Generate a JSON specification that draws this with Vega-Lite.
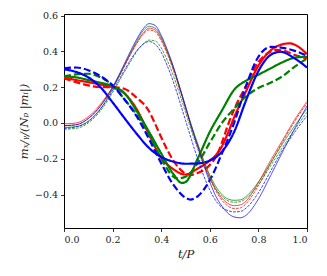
{
  "$schema": "https://vega.github.io/schema/vega-lite/v6.json",
  "width": 243,
  "height": 214,
  "autosize": {"type": "none"},
  "padding": {"left": 64, "top": 14, "right": 20, "bottom": 48},
  "config": {
    "view": {"stroke": "#000", "strokeWidth": 1},
    "axis": {"domain": false, "grid": false, "tickColor": "#000", "tickSize": 3.5, "tickWidth": 0.8, "labelFont": "DejaVu Serif", "labelFontSize": 9.5, "labelColor": "#222", "labelPadding": 3, "titleFont": "DejaVu Serif", "titleFontSize": 11.5, "titleFontWeight": "normal", "titleFontStyle": "italic", "titleColor": "#222"}
  },
  "datasets": {
    "thick": [
      {"case":"1","model":"A","t":0,"value":0.255},{"case":"1","model":"A","t":0.05,"value":0.24},{"case":"1","model":"A","t":0.1,"value":0.228},{"case":"1","model":"A","t":0.15,"value":0.215},{"case":"1","model":"A","t":0.2,"value":0.2},{"case":"1","model":"A","t":0.25,"value":0.163},{"case":"1","model":"A","t":0.3,"value":0.075},{"case":"1","model":"A","t":0.35,"value":-0.065},{"case":"1","model":"A","t":0.4,"value":-0.195},{"case":"1","model":"A","t":0.45,"value":-0.258},{"case":"1","model":"A","t":0.49,"value":-0.287},{"case":"1","model":"A","t":0.5,"value":-0.288},{"case":"1","model":"A","t":0.55,"value":-0.255},{"case":"1","model":"A","t":0.6,"value":-0.21},{"case":"1","model":"A","t":0.625,"value":-0.18},{"case":"1","model":"A","t":0.65,"value":-0.13},{"case":"1","model":"A","t":0.675,"value":-0.055},{"case":"1","model":"A","t":0.7,"value":0.03},{"case":"1","model":"A","t":0.75,"value":0.18},{"case":"1","model":"A","t":0.8,"value":0.32},{"case":"1","model":"A","t":0.85,"value":0.405},{"case":"1","model":"A","t":0.9,"value":0.44},{"case":"1","model":"A","t":0.93,"value":0.445},{"case":"1","model":"A","t":0.95,"value":0.437},{"case":"1","model":"A","t":1,"value":0.385},
      {"case":"1","model":"B","t":0,"value":0.25},{"case":"1","model":"B","t":0.05,"value":0.228},{"case":"1","model":"B","t":0.1,"value":0.21},{"case":"1","model":"B","t":0.15,"value":0.2},{"case":"1","model":"B","t":0.2,"value":0.2},{"case":"1","model":"B","t":0.25,"value":0.19},{"case":"1","model":"B","t":0.3,"value":0.14},{"case":"1","model":"B","t":0.325,"value":0.11},{"case":"1","model":"B","t":0.35,"value":0.065},{"case":"1","model":"B","t":0.375,"value":-0.005},{"case":"1","model":"B","t":0.4,"value":-0.08},{"case":"1","model":"B","t":0.45,"value":-0.21},{"case":"1","model":"B","t":0.5,"value":-0.283},{"case":"1","model":"B","t":0.52,"value":-0.29},{"case":"1","model":"B","t":0.55,"value":-0.28},{"case":"1","model":"B","t":0.6,"value":-0.235},{"case":"1","model":"B","t":0.625,"value":-0.19},{"case":"1","model":"B","t":0.65,"value":-0.11},{"case":"1","model":"B","t":0.675,"value":-0.01},{"case":"1","model":"B","t":0.7,"value":0.075},{"case":"1","model":"B","t":0.75,"value":0.21},{"case":"1","model":"B","t":0.8,"value":0.34},{"case":"1","model":"B","t":0.85,"value":0.398},{"case":"1","model":"B","t":0.875,"value":0.408},{"case":"1","model":"B","t":0.9,"value":0.405},{"case":"1","model":"B","t":0.95,"value":0.38},{"case":"1","model":"B","t":1,"value":0.36},
      {"case":"2","model":"A","t":0,"value":0.26},{"case":"2","model":"A","t":0.05,"value":0.255},{"case":"2","model":"A","t":0.1,"value":0.24},{"case":"2","model":"A","t":0.15,"value":0.225},{"case":"2","model":"A","t":0.2,"value":0.205},{"case":"2","model":"A","t":0.25,"value":0.165},{"case":"2","model":"A","t":0.3,"value":0.065},{"case":"2","model":"A","t":0.35,"value":-0.05},{"case":"2","model":"A","t":0.4,"value":-0.17},{"case":"2","model":"A","t":0.45,"value":-0.285},{"case":"2","model":"A","t":0.485,"value":-0.335},{"case":"2","model":"A","t":0.5,"value":-0.33},{"case":"2","model":"A","t":0.55,"value":-0.2},{"case":"2","model":"A","t":0.6,"value":-0.05},{"case":"2","model":"A","t":0.65,"value":0.07},{"case":"2","model":"A","t":0.7,"value":0.185},{"case":"2","model":"A","t":0.75,"value":0.237},{"case":"2","model":"A","t":0.8,"value":0.27},{"case":"2","model":"A","t":0.85,"value":0.305},{"case":"2","model":"A","t":0.9,"value":0.34},{"case":"2","model":"A","t":0.95,"value":0.365},{"case":"2","model":"A","t":1,"value":0.37},
      {"case":"2","model":"B","t":0,"value":0.26},{"case":"2","model":"B","t":0.05,"value":0.272},{"case":"2","model":"B","t":0.1,"value":0.275},{"case":"2","model":"B","t":0.15,"value":0.255},{"case":"2","model":"B","t":0.2,"value":0.21},{"case":"2","model":"B","t":0.25,"value":0.13},{"case":"2","model":"B","t":0.3,"value":0.045},{"case":"2","model":"B","t":0.35,"value":-0.065},{"case":"2","model":"B","t":0.4,"value":-0.2},{"case":"2","model":"B","t":0.45,"value":-0.3},{"case":"2","model":"B","t":0.465,"value":-0.31},{"case":"2","model":"B","t":0.5,"value":-0.3},{"case":"2","model":"B","t":0.55,"value":-0.225},{"case":"2","model":"B","t":0.6,"value":-0.11},{"case":"2","model":"B","t":0.65,"value":0.0},{"case":"2","model":"B","t":0.7,"value":0.08},{"case":"2","model":"B","t":0.75,"value":0.15},{"case":"2","model":"B","t":0.8,"value":0.195},{"case":"2","model":"B","t":0.85,"value":0.225},{"case":"2","model":"B","t":0.9,"value":0.262},{"case":"2","model":"B","t":0.95,"value":0.315},{"case":"2","model":"B","t":1,"value":0.36},
      {"case":"3","model":"A","t":0,"value":0.3},{"case":"3","model":"A","t":0.05,"value":0.285},{"case":"3","model":"A","t":0.1,"value":0.255},{"case":"3","model":"A","t":0.15,"value":0.2},{"case":"3","model":"A","t":0.2,"value":0.115},{"case":"3","model":"A","t":0.25,"value":0.025},{"case":"3","model":"A","t":0.3,"value":-0.062},{"case":"3","model":"A","t":0.35,"value":-0.14},{"case":"3","model":"A","t":0.4,"value":-0.19},{"case":"3","model":"A","t":0.45,"value":-0.216},{"case":"3","model":"A","t":0.5,"value":-0.228},{"case":"3","model":"A","t":0.55,"value":-0.226},{"case":"3","model":"A","t":0.6,"value":-0.21},{"case":"3","model":"A","t":0.65,"value":-0.16},{"case":"3","model":"A","t":0.7,"value":-0.05},{"case":"3","model":"A","t":0.75,"value":0.13},{"case":"3","model":"A","t":0.8,"value":0.29},{"case":"3","model":"A","t":0.85,"value":0.38},{"case":"3","model":"A","t":0.89,"value":0.398},{"case":"3","model":"A","t":0.95,"value":0.36},{"case":"3","model":"A","t":1,"value":0.31},
      {"case":"3","model":"B","t":0,"value":0.305},{"case":"3","model":"B","t":0.05,"value":0.31},{"case":"3","model":"B","t":0.1,"value":0.295},{"case":"3","model":"B","t":0.15,"value":0.262},{"case":"3","model":"B","t":0.2,"value":0.21},{"case":"3","model":"B","t":0.25,"value":0.13},{"case":"3","model":"B","t":0.3,"value":0.035},{"case":"3","model":"B","t":0.35,"value":-0.09},{"case":"3","model":"B","t":0.4,"value":-0.225},{"case":"3","model":"B","t":0.45,"value":-0.345},{"case":"3","model":"B","t":0.5,"value":-0.418},{"case":"3","model":"B","t":0.52,"value":-0.428},{"case":"3","model":"B","t":0.55,"value":-0.41},{"case":"3","model":"B","t":0.6,"value":-0.32},{"case":"3","model":"B","t":0.65,"value":-0.17},{"case":"3","model":"B","t":0.7,"value":0.0},{"case":"3","model":"B","t":0.75,"value":0.21},{"case":"3","model":"B","t":0.8,"value":0.37},{"case":"3","model":"B","t":0.85,"value":0.425},{"case":"3","model":"B","t":0.9,"value":0.42},{"case":"3","model":"B","t":0.95,"value":0.403},{"case":"3","model":"B","t":1,"value":0.375}
    ],
    "thin": [
      {"case":"1","model":"A","t":0,"value":-0.005},{"case":"1","model":"A","t":0.05,"value":0.0},{"case":"1","model":"A","t":0.1,"value":0.035},{"case":"1","model":"A","t":0.125,"value":0.065},{"case":"1","model":"A","t":0.15,"value":0.105},{"case":"1","model":"A","t":0.175,"value":0.15},{"case":"1","model":"A","t":0.2,"value":0.2},{"case":"1","model":"A","t":0.225,"value":0.26},{"case":"1","model":"A","t":0.25,"value":0.325},{"case":"1","model":"A","t":0.275,"value":0.39},{"case":"1","model":"A","t":0.3,"value":0.45},{"case":"1","model":"A","t":0.325,"value":0.5},{"case":"1","model":"A","t":0.35,"value":0.53},{"case":"1","model":"A","t":0.375,"value":0.52},{"case":"1","model":"A","t":0.4,"value":0.47},{"case":"1","model":"A","t":0.425,"value":0.395},{"case":"1","model":"A","t":0.45,"value":0.305},{"case":"1","model":"A","t":0.475,"value":0.2},{"case":"1","model":"A","t":0.5,"value":0.09},{"case":"1","model":"A","t":0.525,"value":-0.02},{"case":"1","model":"A","t":0.55,"value":-0.12},{"case":"1","model":"A","t":0.575,"value":-0.215},{"case":"1","model":"A","t":0.6,"value":-0.3},{"case":"1","model":"A","t":0.625,"value":-0.37},{"case":"1","model":"A","t":0.65,"value":-0.42},{"case":"1","model":"A","t":0.675,"value":-0.45},{"case":"1","model":"A","t":0.7,"value":-0.462},{"case":"1","model":"A","t":0.725,"value":-0.458},{"case":"1","model":"A","t":0.75,"value":-0.435},{"case":"1","model":"A","t":0.8,"value":-0.332},{"case":"1","model":"A","t":0.85,"value":-0.21},{"case":"1","model":"A","t":0.9,"value":-0.095},{"case":"1","model":"A","t":0.95,"value":0.02},{"case":"1","model":"A","t":1,"value":0.12},
      {"case":"1","model":"B","t":0,"value":-0.015},{"case":"1","model":"B","t":0.05,"value":-0.01},{"case":"1","model":"B","t":0.1,"value":0.025},{"case":"1","model":"B","t":0.125,"value":0.055},{"case":"1","model":"B","t":0.15,"value":0.095},{"case":"1","model":"B","t":0.175,"value":0.14},{"case":"1","model":"B","t":0.2,"value":0.195},{"case":"1","model":"B","t":0.225,"value":0.255},{"case":"1","model":"B","t":0.25,"value":0.32},{"case":"1","model":"B","t":0.275,"value":0.385},{"case":"1","model":"B","t":0.3,"value":0.445},{"case":"1","model":"B","t":0.325,"value":0.495},{"case":"1","model":"B","t":0.35,"value":0.52},{"case":"1","model":"B","t":0.375,"value":0.51},{"case":"1","model":"B","t":0.4,"value":0.46},{"case":"1","model":"B","t":0.425,"value":0.385},{"case":"1","model":"B","t":0.45,"value":0.295},{"case":"1","model":"B","t":0.475,"value":0.19},{"case":"1","model":"B","t":0.5,"value":0.08},{"case":"1","model":"B","t":0.525,"value":-0.03},{"case":"1","model":"B","t":0.55,"value":-0.13},{"case":"1","model":"B","t":0.575,"value":-0.225},{"case":"1","model":"B","t":0.6,"value":-0.31},{"case":"1","model":"B","t":0.625,"value":-0.38},{"case":"1","model":"B","t":0.65,"value":-0.432},{"case":"1","model":"B","t":0.675,"value":-0.465},{"case":"1","model":"B","t":0.7,"value":-0.478},{"case":"1","model":"B","t":0.725,"value":-0.475},{"case":"1","model":"B","t":0.75,"value":-0.45},{"case":"1","model":"B","t":0.8,"value":-0.35},{"case":"1","model":"B","t":0.85,"value":-0.225},{"case":"1","model":"B","t":0.9,"value":-0.105},{"case":"1","model":"B","t":0.95,"value":0.01},{"case":"1","model":"B","t":1,"value":0.11},
      {"case":"2","model":"A","t":0,"value":-0.025},{"case":"2","model":"A","t":0.05,"value":-0.02},{"case":"2","model":"A","t":0.1,"value":0.01},{"case":"2","model":"A","t":0.125,"value":0.04},{"case":"2","model":"A","t":0.15,"value":0.08},{"case":"2","model":"A","t":0.175,"value":0.13},{"case":"2","model":"A","t":0.2,"value":0.19},{"case":"2","model":"A","t":0.225,"value":0.255},{"case":"2","model":"A","t":0.25,"value":0.325},{"case":"2","model":"A","t":0.275,"value":0.395},{"case":"2","model":"A","t":0.3,"value":0.46},{"case":"2","model":"A","t":0.325,"value":0.515},{"case":"2","model":"A","t":0.35,"value":0.54},{"case":"2","model":"A","t":0.375,"value":0.53},{"case":"2","model":"A","t":0.4,"value":0.48},{"case":"2","model":"A","t":0.425,"value":0.4},{"case":"2","model":"A","t":0.45,"value":0.31},{"case":"2","model":"A","t":0.475,"value":0.205},{"case":"2","model":"A","t":0.5,"value":0.095},{"case":"2","model":"A","t":0.525,"value":-0.015},{"case":"2","model":"A","t":0.55,"value":-0.115},{"case":"2","model":"A","t":0.575,"value":-0.21},{"case":"2","model":"A","t":0.6,"value":-0.29},{"case":"2","model":"A","t":0.625,"value":-0.355},{"case":"2","model":"A","t":0.65,"value":-0.4},{"case":"2","model":"A","t":0.675,"value":-0.425},{"case":"2","model":"A","t":0.7,"value":-0.432},{"case":"2","model":"A","t":0.725,"value":-0.43},{"case":"2","model":"A","t":0.75,"value":-0.41},{"case":"2","model":"A","t":0.8,"value":-0.33},{"case":"2","model":"A","t":0.85,"value":-0.225},{"case":"2","model":"A","t":0.9,"value":-0.115},{"case":"2","model":"A","t":0.95,"value":-0.015},{"case":"2","model":"A","t":1,"value":0.08},
      {"case":"2","model":"B","t":0,"value":-0.035},{"case":"2","model":"B","t":0.05,"value":-0.03},{"case":"2","model":"B","t":0.1,"value":0.0},{"case":"2","model":"B","t":0.125,"value":0.03},{"case":"2","model":"B","t":0.15,"value":0.068},{"case":"2","model":"B","t":0.175,"value":0.115},{"case":"2","model":"B","t":0.2,"value":0.17},{"case":"2","model":"B","t":0.225,"value":0.228},{"case":"2","model":"B","t":0.25,"value":0.288},{"case":"2","model":"B","t":0.275,"value":0.345},{"case":"2","model":"B","t":0.3,"value":0.4},{"case":"2","model":"B","t":0.325,"value":0.44},{"case":"2","model":"B","t":0.35,"value":0.463},{"case":"2","model":"B","t":0.375,"value":0.458},{"case":"2","model":"B","t":0.4,"value":0.42},{"case":"2","model":"B","t":0.425,"value":0.35},{"case":"2","model":"B","t":0.45,"value":0.265},{"case":"2","model":"B","t":0.475,"value":0.165},{"case":"2","model":"B","t":0.5,"value":0.06},{"case":"2","model":"B","t":0.525,"value":-0.045},{"case":"2","model":"B","t":0.55,"value":-0.145},{"case":"2","model":"B","t":0.575,"value":-0.235},{"case":"2","model":"B","t":0.6,"value":-0.31},{"case":"2","model":"B","t":0.625,"value":-0.37},{"case":"2","model":"B","t":0.65,"value":-0.41},{"case":"2","model":"B","t":0.675,"value":-0.435},{"case":"2","model":"B","t":0.7,"value":-0.443},{"case":"2","model":"B","t":0.725,"value":-0.44},{"case":"2","model":"B","t":0.75,"value":-0.42},{"case":"2","model":"B","t":0.8,"value":-0.345},{"case":"2","model":"B","t":0.85,"value":-0.24},{"case":"2","model":"B","t":0.9,"value":-0.135},{"case":"2","model":"B","t":0.95,"value":-0.035},{"case":"2","model":"B","t":1,"value":0.06},
      {"case":"3","model":"A","t":0,"value":-0.015},{"case":"3","model":"A","t":0.05,"value":-0.01},{"case":"3","model":"A","t":0.1,"value":0.025},{"case":"3","model":"A","t":0.125,"value":0.055},{"case":"3","model":"A","t":0.15,"value":0.095},{"case":"3","model":"A","t":0.175,"value":0.145},{"case":"3","model":"A","t":0.2,"value":0.2},{"case":"3","model":"A","t":0.225,"value":0.265},{"case":"3","model":"A","t":0.25,"value":0.335},{"case":"3","model":"A","t":0.275,"value":0.405},{"case":"3","model":"A","t":0.3,"value":0.47},{"case":"3","model":"A","t":0.325,"value":0.525},{"case":"3","model":"A","t":0.35,"value":0.555},{"case":"3","model":"A","t":0.375,"value":0.545},{"case":"3","model":"A","t":0.4,"value":0.49},{"case":"3","model":"A","t":0.425,"value":0.41},{"case":"3","model":"A","t":0.45,"value":0.315},{"case":"3","model":"A","t":0.475,"value":0.205},{"case":"3","model":"A","t":0.5,"value":0.09},{"case":"3","model":"A","t":0.525,"value":-0.025},{"case":"3","model":"A","t":0.55,"value":-0.13},{"case":"3","model":"A","t":0.575,"value":-0.235},{"case":"3","model":"A","t":0.6,"value":-0.33},{"case":"3","model":"A","t":0.625,"value":-0.41},{"case":"3","model":"A","t":0.65,"value":-0.465},{"case":"3","model":"A","t":0.675,"value":-0.505},{"case":"3","model":"A","t":0.7,"value":-0.525},{"case":"3","model":"A","t":0.725,"value":-0.53},{"case":"3","model":"A","t":0.75,"value":-0.515},{"case":"3","model":"A","t":0.8,"value":-0.425},{"case":"3","model":"A","t":0.85,"value":-0.295},{"case":"3","model":"A","t":0.9,"value":-0.16},{"case":"3","model":"A","t":0.95,"value":-0.03},{"case":"3","model":"A","t":1,"value":0.095},
      {"case":"3","model":"B","t":0,"value":-0.03},{"case":"3","model":"B","t":0.05,"value":-0.022},{"case":"3","model":"B","t":0.1,"value":0.008},{"case":"3","model":"B","t":0.125,"value":0.038},{"case":"3","model":"B","t":0.15,"value":0.077},{"case":"3","model":"B","t":0.175,"value":0.125},{"case":"3","model":"B","t":0.2,"value":0.18},{"case":"3","model":"B","t":0.225,"value":0.238},{"case":"3","model":"B","t":0.25,"value":0.298},{"case":"3","model":"B","t":0.275,"value":0.355},{"case":"3","model":"B","t":0.3,"value":0.405},{"case":"3","model":"B","t":0.325,"value":0.44},{"case":"3","model":"B","t":0.35,"value":0.455},{"case":"3","model":"B","t":0.375,"value":0.44},{"case":"3","model":"B","t":0.4,"value":0.395},{"case":"3","model":"B","t":0.425,"value":0.32},{"case":"3","model":"B","t":0.45,"value":0.23},{"case":"3","model":"B","t":0.475,"value":0.125},{"case":"3","model":"B","t":0.5,"value":0.015},{"case":"3","model":"B","t":0.525,"value":-0.095},{"case":"3","model":"B","t":0.55,"value":-0.2},{"case":"3","model":"B","t":0.575,"value":-0.295},{"case":"3","model":"B","t":0.6,"value":-0.375},{"case":"3","model":"B","t":0.625,"value":-0.435},{"case":"3","model":"B","t":0.65,"value":-0.472},{"case":"3","model":"B","t":0.675,"value":-0.49},{"case":"3","model":"B","t":0.7,"value":-0.497},{"case":"3","model":"B","t":0.725,"value":-0.495},{"case":"3","model":"B","t":0.75,"value":-0.475},{"case":"3","model":"B","t":0.8,"value":-0.39},{"case":"3","model":"B","t":0.85,"value":-0.27},{"case":"3","model":"B","t":0.9,"value":-0.15},{"case":"3","model":"B","t":0.95,"value":-0.05},{"case":"3","model":"B","t":1,"value":0.04}
    ]
  },
  "encoding": {
    "x": {"field": "t", "type": "quantitative", "scale": {"domain": [0, 1], "nice": false}, "axis": {"values": [0, 0.2, 0.4, 0.6, 0.8, 1], "format": ".1f", "title": "t/P", "titlePadding": 4}},
    "y": {"field": "value", "type": "quantitative", "scale": {"domain": [-0.587, 0.609], "nice": false, "zero": false}, "axis": {"values": [-0.4, -0.2, 0, 0.2, 0.4, 0.6], "format": ".1f", "title": "mₓ/ᵧ/(Nₚ |mᵢ|)", "titlePadding": 5}},
    "color": {"field": "case", "type": "nominal", "scale": {"domain": ["1", "2", "3"], "range": ["#ff0000", "#008000", "#0000ff"]}, "legend": null}
  },
  "layer": [
    {
      "data": {"name": "thick"},
      "mark": {"type": "line", "interpolate": "monotone", "strokeWidth": 2.2, "clip": true},
      "encoding": {
        "detail": {"field": "model", "type": "nominal"},
        "strokeDash": {"field": "model", "type": "nominal", "scale": {"domain": ["A", "B"], "range": [[1, 0], [7, 3]]}, "legend": null}
      }
    },
    {
      "data": {"name": "thin"},
      "mark": {"type": "line", "interpolate": "monotone", "strokeWidth": 0.75, "clip": true},
      "encoding": {
        "detail": {"field": "model", "type": "nominal"},
        "strokeDash": {"field": "model", "type": "nominal", "scale": {"domain": ["A", "B"], "range": [[1, 0], [2.8, 1.2]]}, "legend": null}
      }
    }
  ],
  "resolve": {"scale": {"strokeDash": "independent"}}
}
